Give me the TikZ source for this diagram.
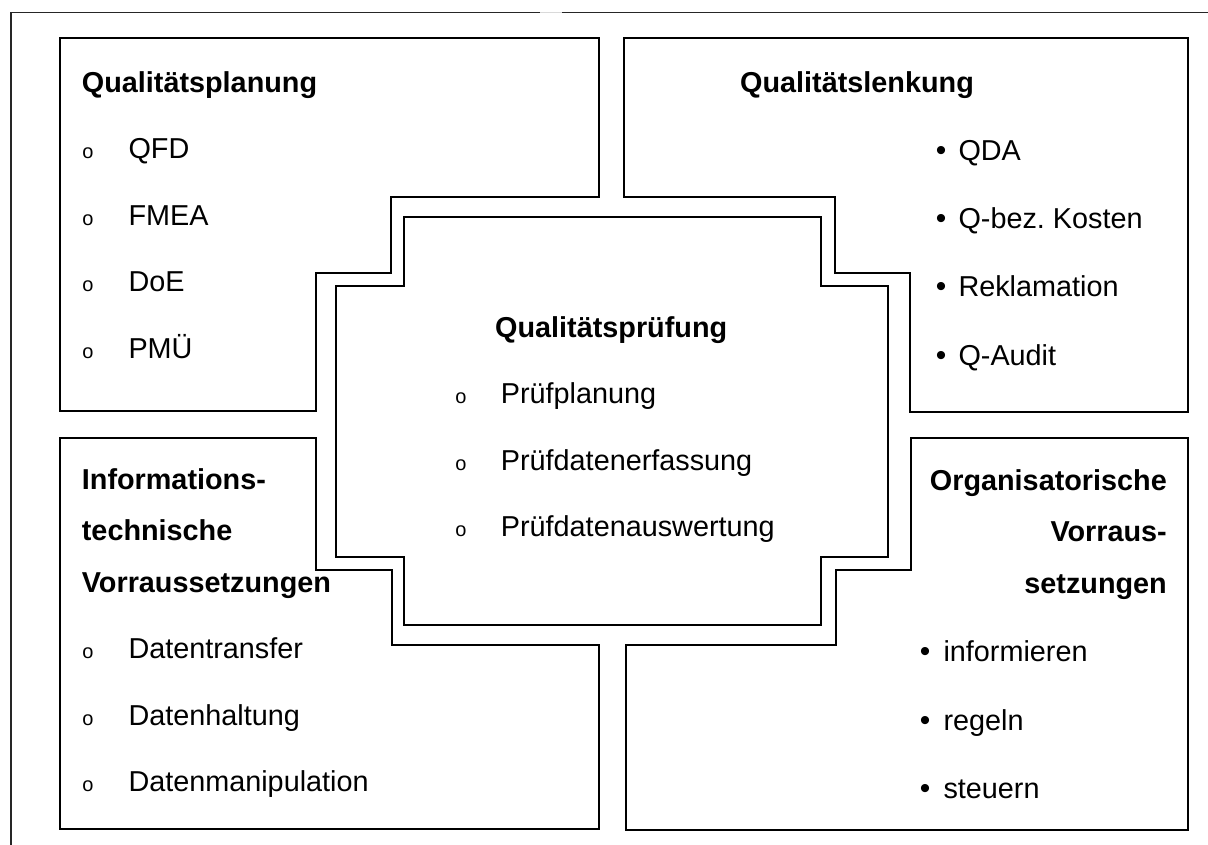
\documentclass[tikz,border=0pt]{standalone}
\usepackage{fontspec}
\setmainfont{Liberation Sans}
\frenchspacing
\begin{document}
\begin{tikzpicture}[x=1bp,y=-1bp,
  panel/.style={draw=black, line width=1.8bp, line join=miter},
  frame/.style={draw=black!85, line width=1.4bp},
  txt/.style={inner sep=0pt, anchor=base west, font=\fontsize{28.8bp}{34bp}\selectfont},
  head/.style={txt, font=\fontsize{28.8bp}{34bp}\selectfont\bfseries},
  headr/.style={head, anchor=base east},
  circ/.style={inner sep=0pt, anchor=base, font=\fontsize{20bp}{24bp}\selectfont},
  dot/.style={inner sep=0pt, anchor=base, font=\fontsize{30bp}{34bp}\selectfont},
]
\useasboundingbox (0,0) rectangle (1208,845);

% outer frame: left and top edge only
\coordinate (fA) at (11,845);
\coordinate (fB) at (11,12.7);
\coordinate (fC) at (540,12.7);
\coordinate (fD) at (562,12.7);
\coordinate (fE) at (1208,12.7);
\draw[frame] (fA) -- (fB) -- (fC);
\draw[frame] (fD) -- (fE);
\draw[draw=black!15, line width=1.3bp] (fC) -- (fD);

% four stepped panels
\draw[panel] (60,37.7) -- (599,37.7) -- (599,197.3) -- (390.7,197.3) -- (390.7,272.7)
  -- (316,272.7) -- (316,411) -- (60,411) -- cycle;
\draw[panel] (624.3,37.7) -- (1188.3,37.7) -- (1188.3,411.7) -- (910,411.7) -- (910,272.7)
  -- (835,272.7) -- (835,197.3) -- (624.3,197.3) -- cycle;
\draw[panel] (60,438) -- (316,438) -- (316,570) -- (391.7,570) -- (391.7,645)
  -- (599.3,645) -- (599.3,829.3) -- (60,829.3) -- cycle;
\draw[panel] (626,645) -- (835.7,645) -- (835.7,570) -- (910.7,570) -- (910.7,438.3)
  -- (1188.3,438.3) -- (1188.3,830) -- (626,830) -- cycle;

% central cross
\draw[panel] (404,217.3) -- (820.7,217.3) -- (820.7,285.7) -- (888.3,285.7) -- (888.3,557.3)
  -- (820.7,557.3) -- (820.7,625) -- (404,625) -- (404,557.3) -- (336,557.3)
  -- (336,285.7) -- (404,285.7) -- cycle;

% Qualitaetsplanung
\node[head] (tlh) at (81.7,92.7) {Qualitätsplanung};
\foreach \t/\y [count=\i] in {QFD/158.3, FMEA/225, DoE/291.7, PMÜ/358.3} {
  \node[circ] (tlb\i) at (88,\y) {o};
  \node[txt] (tl\i) at (128.3,\y) {\t};
}

% Qualitaetslenkung
\node[head] (trh) at (740,92.7) {Qualitätslenkung};
\foreach \t/\y [count=\i] in {QDA/160, Q-bez. Kosten/228.3, Reklamation/296.7, Q-Audit/365} {
  \node[dot] (trb\i) at (941,\y) {•};
  \node[txt] (tr\i) at (958.3,\y) {\t};
}

% Qualitaetspruefung
\node[head] (cth) at (495,337.7) {Qualitätsprüfung};
\foreach \t/\y [count=\i] in {Prüfplanung/403.3, Prüfdatenerfassung/470, Prüfdatenauswertung/536.7} {
  \node[circ] (ctb\i) at (461,\y) {o};
  \node[txt] (ct\i) at (500.7,\y) {\t};
}

% Informationstechnische Voraussetzungen
\node[head] (blh1) at (81.7,489) {Informations-};
\node[head] (blh2) at (81.7,540.5) {technische};
\node[head] (blh3) at (81.7,592) {Vorraussetzungen};
\foreach \t/\y [count=\i] in {Datentransfer/658.3, Datenhaltung/725, Datenmanipulation/791.7} {
  \node[circ] (blb\i) at (88,\y) {o};
  \node[txt] (bl\i) at (128.3,\y) {\t};
}

% Organisatorische Voraussetzungen
\node[headr] (brh1) at (1167,490) {Organisatorische};
\node[headr] (brh2) at (1167,541.5) {Vorraus-};
\node[headr] (brh3) at (1167,593) {setzungen};
\foreach \t/\y [count=\i] in {informieren/661.7, regeln/730, steuern/798.3} {
  \node[dot] (brb\i) at (925,\y) {•};
  \node[txt] (br\i) at (943.3,\y) {\t};
}
\end{tikzpicture}
\end{document}
